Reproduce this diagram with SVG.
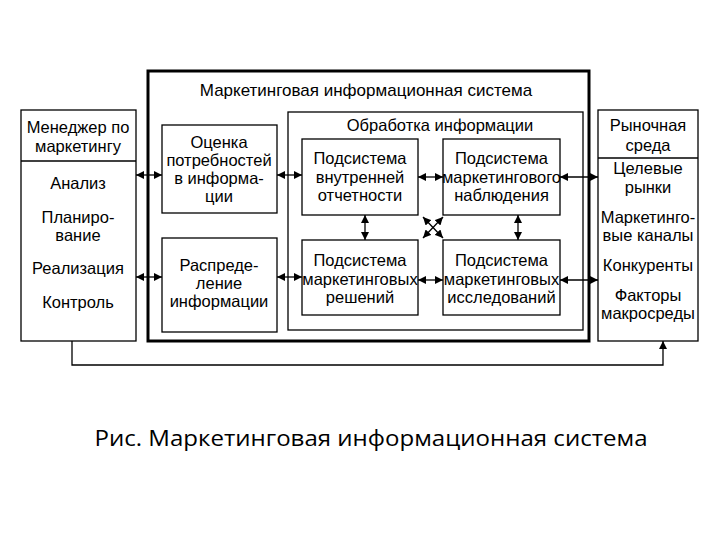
<svg xmlns="http://www.w3.org/2000/svg" width="720" height="540" viewBox="0 0 720 540">
<defs>
<marker id="ah" viewBox="0 0 10 10" refX="10" refY="5" markerWidth="8" markerHeight="8" markerUnits="userSpaceOnUse" orient="auto-start-reverse">
<path d="M0,0 L10,5 L0,10 z" fill="#000"/>
</marker>
<style>
rect{fill:#fff;stroke:#000;stroke-width:1.3}
text{font-family:"Liberation Sans",Arial,sans-serif;font-size:16.5px;fill:#000;text-anchor:middle}
.c line,.c path{stroke:#000;stroke-width:1.3;fill:none;marker-start:url(#ah);marker-end:url(#ah)}
.c .one{marker-start:none}
</style>
</defs>
<rect width="720" height="540" style="fill:#fff;stroke:none"/>
<g id="mis">
<rect x="148" y="71" width="441" height="270" style="stroke-width:3"/>
<text x="366" y="96" style="font-size:17px">Маркетинговая информационная система</text>
</g>
<g id="manager">
<rect x="21" y="110" width="115" height="231"/>
<line x1="21" y1="161" x2="136" y2="161" stroke="#000" stroke-width="1.3"/>
<text x="78" y="133">Менеджер по</text>
<text x="78" y="152">маркетингу</text>
<text x="78" y="189">Анализ</text>
<text x="78" y="223">Планиро-</text>
<text x="78" y="241">вание</text>
<text x="78" y="274">Реализация</text>
<text x="78" y="308">Контроль</text>
</g>
<g id="needs">
<rect x="162" y="125" width="115" height="88"/>
<text x="219" y="148">Оценка</text>
<text x="219" y="166">потребностей</text>
<text x="219" y="184">в информа-</text>
<text x="219" y="202">ции</text>
</g>
<g id="distribution">
<rect x="162" y="238" width="115" height="94"/>
<text x="219" y="271">Распреде-</text>
<text x="219" y="289">ление</text>
<text x="219" y="307">информации</text>
</g>
<g id="processing">
<rect x="288" y="112" width="295" height="218"/>
<text x="440" y="131">Обработка информации</text>
</g>
<g id="internal">
<rect x="302" y="139" width="116" height="76"/>
<text x="360" y="164">Подсистема</text>
<text x="360" y="183">внутренней</text>
<text x="360" y="201">отчетности</text>
</g>
<g id="observation">
<rect x="443" y="139" width="117" height="76"/>
<text x="501.5" y="164">Подсистема</text>
<text x="501.5" y="183">маркетингового</text>
<text x="501.5" y="201">наблюдения</text>
</g>
<g id="decisions">
<rect x="302" y="240" width="116" height="75"/>
<text x="360" y="266">Подсистема</text>
<text x="360" y="285">маркетинговых</text>
<text x="360" y="303">решений</text>
</g>
<g id="research">
<rect x="443" y="240" width="117" height="75"/>
<text x="501.5" y="266">Подсистема</text>
<text x="501.5" y="285">маркетинговых</text>
<text x="501.5" y="303">исследований</text>
</g>
<g id="market">
<rect x="598" y="110" width="100" height="231"/>
<line x1="598" y1="158" x2="698" y2="158" stroke="#000" stroke-width="1.3"/>
<text x="648" y="131">Рыночная</text>
<text x="648" y="151">среда</text>
<text x="648" y="174">Целевые</text>
<text x="648" y="193">рынки</text>
<text x="648" y="223">Маркетинго-</text>
<text x="648" y="241">вые каналы</text>
<text x="648" y="271">Конкуренты</text>
<text x="648" y="301">Факторы</text>
<text x="648" y="319">макросреды</text>
</g>
<g id="connectors" class="c">
<line x1="136" y1="175" x2="162" y2="175"/>
<line x1="136" y1="277" x2="162" y2="277"/>
<line x1="277" y1="175" x2="302" y2="175"/>
<line x1="277" y1="277" x2="302" y2="277"/>
<line x1="418" y1="177" x2="443" y2="177"/>
<line x1="418" y1="280" x2="443" y2="280"/>
<line x1="560" y1="177" x2="598" y2="177"/>
<line x1="560" y1="280" x2="598" y2="280"/>
<line x1="365" y1="215" x2="365" y2="240"/>
<line x1="518" y1="215" x2="518" y2="240"/>
<line x1="423" y1="217" x2="443" y2="238"/>
<line x1="443" y1="217" x2="423" y2="238"/>
<path class="one" d="M72,341 V365 H663 V341"/>
</g>
<text x="371" y="446" style="font-family:'Open Sans','Noto Sans',sans-serif;font-size:22px" textLength="553" lengthAdjust="spacingAndGlyphs">Рис. Маркетинговая информационная система</text>
</svg>
